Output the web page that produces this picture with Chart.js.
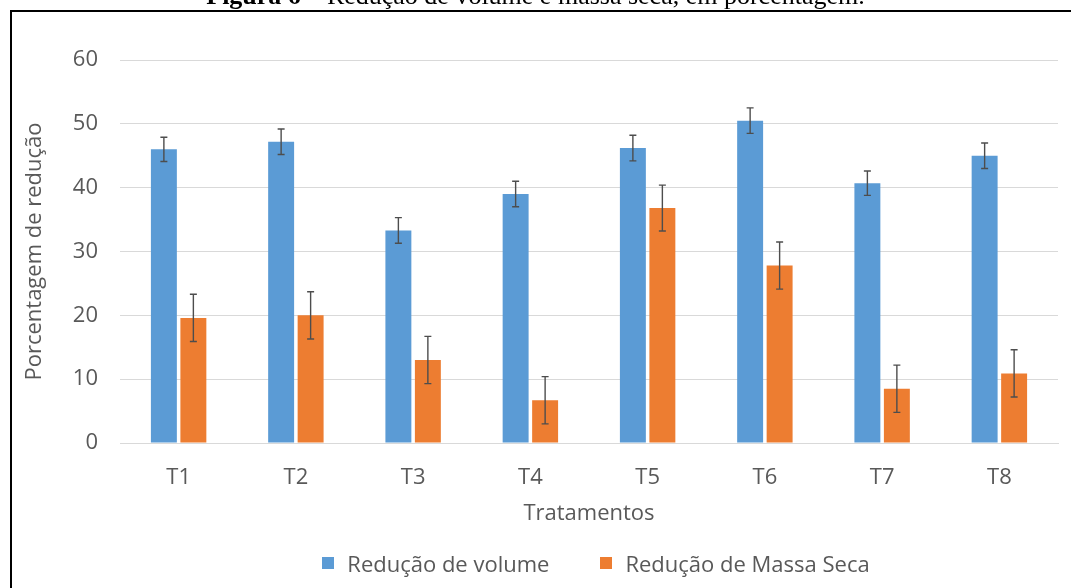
<!DOCTYPE html>
<html>
<head>
<meta charset="utf-8">
<script src="https://cdn.jsdelivr.net/npm/chart.js@4/dist/chart.umd.min.js"></script>
<style>
  html, body { margin: 0; padding: 0; background: #fff; }
  #wrap { position: relative; width: 1071px; height: 588px; overflow: hidden; }
  #chart { position: absolute; left: 0; top: 0; }
  #caption {
    position: absolute; left: 0; top: -17px; width: 1071px; text-align: center;
    font-family: "Liberation Serif", serif; font-size: 26px; line-height: 26px; color: #000;
    white-space: nowrap;
  }
  #frame {
    position: absolute; left: 10px; top: 10px; width: 1100px; height: 600px;
    border-left: 2px solid #000; border-top: 2px solid #000; pointer-events: none;
  }
  #legend {
    position: absolute; left: 127px; width: 938px; top: 550px; height: 26px;
    display: flex; justify-content: center; align-items: center; gap: 51px;
    font-family: "Open Sans", sans-serif; font-size: 22px; color: #595959;
  }
  .item { display: flex; align-items: center; }
  .box { width: 12px; height: 12px; margin-right: 13px; }
</style>
</head>
<body>
<div id="wrap">
  <canvas id="chart" width="1071" height="588"></canvas>
  <div id="caption"><b>Figura 6</b> – Redução de volume e massa seca, em porcentagem.</div>
  <div id="frame"></div>
  <div id="legend"></div>
</div>
<script>
const categories = ['T1', 'T2', 'T3', 'T4', 'T5', 'T6', 'T7', 'T8'];
const volume = [46.0, 47.2, 33.3, 39.0, 46.2, 50.5, 40.7, 45.0];
const volumeErr = [1.9, 2.0, 2.0, 2.0, 2.0, 2.0, 1.9, 2.0];
const massa = [19.6, 20.0, 13.0, 6.7, 36.8, 27.8, 8.5, 10.9];
const massaErr = [3.7, 3.7, 3.7, 3.7, 3.6, 3.7, 3.7, 3.7];
const yTicks = [0, 10, 20, 30, 40, 50, 60];

const seriesNames = ['Redução de volume', 'Redução de Massa Seca'];
const seriesColors = ['#5B9BD5', '#ED7D31'];
const textColor = '#595959';
const font = { family: '"Open Sans", sans-serif', size: 22 };

// barras de erro desenhadas sobre as barras
const errorBars = {
    id: 'errorBars',
    afterDatasetsDraw(chart) {
        const ctx = chart.ctx;
        const y = chart.scales.y;
        ctx.save();
        ctx.strokeStyle = '#4d4d4d';
        ctx.lineWidth = 1.4;
        chart.data.datasets.forEach((ds, i) => {
            const meta = chart.getDatasetMeta(i);
            meta.data.forEach((bar, j) => {
                const v = ds.data[j];
                const e = ds.errors[j];
                const top = y.getPixelForValue(v + e);
                const bot = y.getPixelForValue(v - e);
                ctx.beginPath();
                ctx.moveTo(bar.x, top);
                ctx.lineTo(bar.x, bot);
                ctx.moveTo(bar.x - 3.5, top);
                ctx.lineTo(bar.x + 3.5, top);
                ctx.moveTo(bar.x - 3.5, bot);
                ctx.lineTo(bar.x + 3.5, bot);
                ctx.stroke();
            });
        });
        ctx.restore();
    }
};

new Chart(document.getElementById('chart'), {
    type: 'bar',
    data: {
        labels: categories,
        datasets: [
            { label: seriesNames[0], data: volume, errors: volumeErr, backgroundColor: seriesColors[0] },
            { label: seriesNames[1], data: massa, errors: massaErr, backgroundColor: seriesColors[1] }
        ]
    },
    options: {
        responsive: false,
        animation: false,
        devicePixelRatio: 1,
        categoryPercentage: 0.503,
        barPercentage: 0.88,
        layout: { padding: { left: 0, right: 13, top: 60, bottom: 55 } },
        plugins: {
            legend: { display: false },
            tooltip: { enabled: false }
        },
        scales: {
            x: {
                grid: { display: false },
                border: { color: '#d9d9d9', width: 1 },
                ticks: { color: textColor, font: font, padding: 14 },
                title: { display: true, text: 'Tratamentos', color: textColor, font: font, padding: { top: 0, bottom: 6 } },
                afterFit: (scale) => { scale.height = 90; }
            },
            y: {
                min: 0,
                max: 60,
                afterBuildTicks: (scale) => { scale.ticks = yTicks.map(v => ({ value: v })); },
                grid: { color: '#d9d9d9', drawTicks: false },
                border: { display: false },
                ticks: { color: textColor, font: font, padding: 22 },
                title: { display: true, text: 'Porcentagem de redução', color: textColor, font: font, padding: { top: 22, bottom: 0 } },
                afterFit: (scale) => { scale.width = 120; }
            }
        }
    },
    plugins: [errorBars]
});

// legenda em HTML
const legend = document.getElementById('legend');
seriesNames.forEach((name, i) => {
    const item = document.createElement('div');
    item.className = 'item';
    item.innerHTML = `<span class="box" style="background:${seriesColors[i]}"></span><span>${name}</span>`;
    legend.appendChild(item);
});
</script>
</body>
</html>
